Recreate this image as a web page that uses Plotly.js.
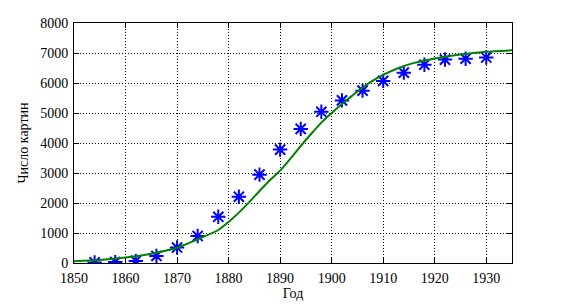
<!DOCTYPE html>
<html>
<head>
<meta charset="utf-8">
<script src="https://cdn.plot.ly/plotly-3.0.1.min.js"></script>
<style>body{margin:0;background:#fff}#plot{width:568px;height:304px}</style>
</head>
<body>
<div id="plot"></div>
<script>
// observed counts (stars)
var years = [1854, 1858, 1862, 1866, 1870, 1874, 1878, 1882, 1886, 1890,
             1894, 1898, 1902, 1906, 1910, 1914, 1918, 1922, 1926, 1930];
var counts = [20, 30, 70, 235, 515, 900, 1540, 2210, 2945, 3780,
              4470, 5040, 5420, 5745, 6070, 6345, 6610, 6780, 6810, 6850];

// fitted curve (green)
var fitYears = [1850, 1855, 1860, 1865, 1870, 1874, 1878, 1880, 1882, 1884, 1886, 1888,
                1890, 1892, 1894, 1896, 1898, 1900, 1902, 1904, 1906, 1908, 1910,
                1913, 1916, 1920, 1925, 1930, 1935];
var fitVals = [60, 100, 180, 310, 510, 790, 1100, 1370, 1680, 2030, 2400, 2760,
               3080, 3480, 3900, 4300, 4680, 5000, 5300, 5580, 5850, 6080, 6270,
               6500, 6670, 6820, 6950, 7040, 7090];

var xTicks = [1850, 1860, 1870, 1880, 1890, 1900, 1910, 1920, 1930];
var yTicks = [0, 1000, 2000, 3000, 4000, 5000, 6000, 7000, 8000];

var serif = 'Liberation Serif';

var data = [{
  x: years, y: counts,
  type: 'scatter', mode: 'markers',
  marker: {symbol: 'asterisk-open', size: 12, color: 'rgb(0,0,255)',
           line: {color: 'rgb(0,0,255)', width: 2}},
  showlegend: false
}, {
  x: fitYears, y: fitVals,
  type: 'scatter', mode: 'lines',
  line: {color: 'rgb(0,128,0)', width: 2, shape: 'spline', smoothing: 0.6},
  showlegend: false
}];

function axis(extra) {
  return Object.assign({
    showline: true, linecolor: '#000', linewidth: 1, mirror: 'ticks',
    ticks: 'inside', ticklen: 5, tickcolor: '#000',
    showgrid: true, gridcolor: '#000', gridwidth: 1, griddash: '1px,2px',
    zeroline: false,
    tickfont: {family: serif, size: 14, color: '#000'}
  }, extra);
}

var layout = {
  width: 568, height: 304,
  margin: {l: 74, r: 56, t: 23, b: 41},
  font: {family: serif, size: 14, color: '#000'},
  paper_bgcolor: '#fff', plot_bgcolor: '#fff',
  xaxis: axis({
    range: [1850, 1935], tickvals: xTicks, ticklabelstandoff: 2,
    title: {text: 'Год', standoff: 1, font: {family: serif, size: 14, color: '#000'}}
  }),
  yaxis: axis({
    range: [0, 8000], tickvals: yTicks, ticklabelstandoff: 2,
    title: {text: 'Число картин', standoff: 8, font: {family: serif, size: 14, color: '#000'}}
  })
};

Plotly.newPlot('plot', data, layout, {displayModeBar: false, staticPlot: true});
</script>
</body>
</html>
